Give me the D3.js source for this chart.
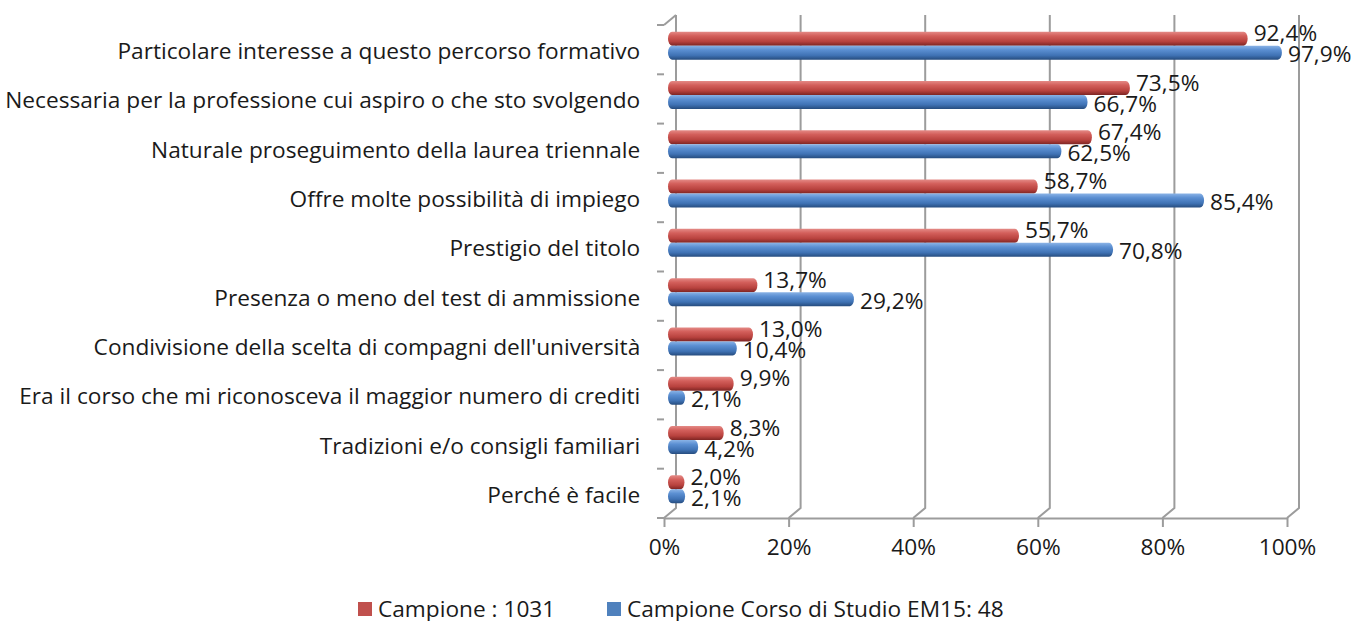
<!DOCTYPE html>
<html>
<head>
<meta charset="utf-8">
<script src="https://cdn.jsdelivr.net/npm/d3@7"></script>
<style>
  body { margin: 0; background: #fff; }
  text { font-family: "Open Sans", sans-serif; fill: #1a1a1a; }
</style>
</head>
<body>
<div id="chart"></div>
<script>
/* Data */
const categories = [
  "Particolare interesse a questo percorso formativo",
  "Necessaria per la professione cui aspiro o che sto svolgendo",
  "Naturale proseguimento della laurea triennale",
  "Offre molte possibilità di impiego",
  "Prestigio del titolo",
  "Presenza o meno del test di ammissione",
  "Condivisione della scelta di compagni dell'università",
  "Era il corso che mi riconosceva il maggior numero di crediti",
  "Tradizioni e/o consigli familiari",
  "Perché è facile"
];
const seriesNames = ["Campione : 1031", "Campione Corso di Studio EM15: 48"];
const campione = [92.4, 73.5, 67.4, 58.7, 55.7, 13.7, 13.0, 9.9, 8.3, 2.0];
const campioneEM15 = [97.9, 66.7, 62.5, 85.4, 70.8, 29.2, 10.4, 2.1, 4.2, 2.1];
const xTicks = [0, 20, 40, 60, 80, 100];

/* Dimensions */
const width = 1359, height = 621;
const front = { left: 664, right: 1287, top: 25, bottom: 518 };
const depth = { dx: 12, dy: -10 };   // offset of the back wall
const gridColor = "#9c9c9c";
const colors = ["#C0504D", "#4F81BD"];
const stretch = 1.08;  // the original text is a bit wider than Open Sans

const itFormat = d3.formatLocale({ decimal: ",", thousands: ".", grouping: [3], currency: ["", "€"] }).format(".1f");

const rows = categories.map((c, i) => ({ cat: c, values: [campione[i], campioneEM15[i]] }));

/* Scales */
const xScale = d3.scaleLinear().domain([0, 100]).range([front.left, front.right]);
const yScale = d3.scaleBand().domain(categories).range([front.top, front.bottom]).padding(0);
const ySub = d3.scaleBand().domain([0, 1]).range([0, yScale.bandwidth()]).paddingInner(0).paddingOuter(0.76);

const svg = d3.select("#chart").append("svg")
  .attr("width", width)
  .attr("height", height);

/* Gradients for the cylinder look */
const defs = svg.append("defs");
const shades = [
  ["#e48a86", "#d35f5b", "#b8423e", "#7e2523"],
  ["#8ab3e6", "#5b8fd2", "#3f72b4", "#264c7e"]
];
shades.forEach((s, i) => {
  const g = defs.append("linearGradient").attr("id", "grad" + i)
    .attr("x1", 0).attr("y1", 0).attr("x2", 0).attr("y2", 1);
  g.append("stop").attr("offset", "0%").attr("stop-color", s[0]);
  g.append("stop").attr("offset", "30%").attr("stop-color", s[1]);
  g.append("stop").attr("offset", "70%").attr("stop-color", s[2]);
  g.append("stop").attr("offset", "100%").attr("stop-color", s[3]);
});

/* Walls and gridlines */
const walls = svg.append("g")
  .attr("fill", "none")
  .attr("stroke", gridColor)
  .attr("stroke-width", 2);

// back wall vertical gridlines, bent down to the floor front edge
walls.selectAll(".grid")
  .data(xTicks)
  .enter()
  .append("path")
  .attr("class", "grid")
  .attr("d", (d) => {
    const xb = xScale(d) + depth.dx;
    return `M${xb},${front.top + depth.dy}V${front.bottom + depth.dy}L${xScale(d)},${front.bottom}`;
  });

// left wall top edge
walls.append("path")
  .attr("d", `M${front.left},${front.top}L${front.left + depth.dx},${front.top + depth.dy}`);

// left axis ticks at category boundaries
const boundaries = categories.map((c) => yScale(c)).concat([front.bottom]);
walls.selectAll(".ytick")
  .data(boundaries)
  .enter()
  .append("path")
  .attr("class", "ytick")
  .attr("d", (d) => `M${front.left - 7},${d}H${front.left}`);

/* X axis */
const xAxis = svg.append("g")
  .attr("transform", `translate(0,${front.bottom})`)
  .call(
    d3.axisBottom(xScale)
      .tickValues(xTicks)
      .tickFormat((d) => d + "%")
      .tickSize(9)
      .tickSizeOuter(0)
      .tickPadding(13)
  );
xAxis.select(".domain").attr("stroke", gridColor).attr("stroke-width", 2);
xAxis.selectAll(".tick line").attr("stroke", gridColor).attr("stroke-width", 2);
xAxis.selectAll(".tick text")
  .style("font-family", "'Open Sans', sans-serif")
  .style("font-size", "21px")
  .attr("transform", `scale(${stretch},1)`)
  .attr("fill", "#1a1a1a");

/* Y axis labels */
const yAxis = svg.append("g")
  .attr("transform", `translate(${front.left},0)`)
  .call(d3.axisLeft(yScale).tickSize(0).tickPadding(22));
yAxis.select(".domain").remove();
yAxis.selectAll(".tick text")
  .style("font-family", "'Open Sans', sans-serif")
  .style("font-size", "21px")
  .attr("dy", "0.45em")
  .attr("transform", `scale(${stretch},1)`)
  .attr("fill", "#1a1a1a");

/* Bars */
const midX = depth.dx / 2, midY = depth.dy / 2 + 1;
const groups = svg.selectAll(".row")
  .data(rows)
  .enter()
  .append("g")
  .attr("class", "row")
  .attr("transform", (d) => `translate(0,${yScale(d.cat) + midY})`);

groups.selectAll(".bar")
  .data((d) => d.values.map((v, i) => ({ v: v, s: i })))
  .enter()
  .append("rect")
  .attr("class", "bar")
  .attr("x", xScale(0) + midX - 2)
  .attr("y", (d) => ySub(d.s))
  .attr("width", (d) => xScale(d.v) - xScale(0) + 4)
  .attr("height", ySub.bandwidth())
  .attr("rx", 4)
  .attr("ry", ySub.bandwidth() / 2)
  .attr("fill", (d) => `url(#grad${d.s})`);

// data labels
groups.selectAll(".label")
  .data((d) => d.values.map((v, i) => ({ v: v, s: i })))
  .enter()
  .append("text")
  .attr("class", "label")
  .attr("transform", (d) => {
    const lx = xScale(d.v) + midX + 8;
    const ly = ySub(d.s) + ySub.bandwidth() / 2 + (d.s === 0 ? -5 : 2);
    return `translate(${lx},${ly}) scale(${stretch},1)`;
  })
  .attr("dy", "0.36em")
  .style("font-size", "21px")
  .text((d) => itFormat(d.v) + "%");

/* Legend */
const legend = svg.append("g").attr("transform", "translate(358,602)");
const legendX = [0, 249];
seriesNames.forEach((name, i) => {
  const item = legend.append("g").attr("transform", `translate(${legendX[i]},0)`);
  item.append("rect")
    .attr("width", 14)
    .attr("height", 14)
    .attr("fill", colors[i]);
  item.append("text")
    .attr("transform", `translate(20,7) scale(${stretch},1)`)
    .attr("dy", "0.36em")
    .style("font-size", "21px")
    .text(name);
});
</script>
</body>
</html>
